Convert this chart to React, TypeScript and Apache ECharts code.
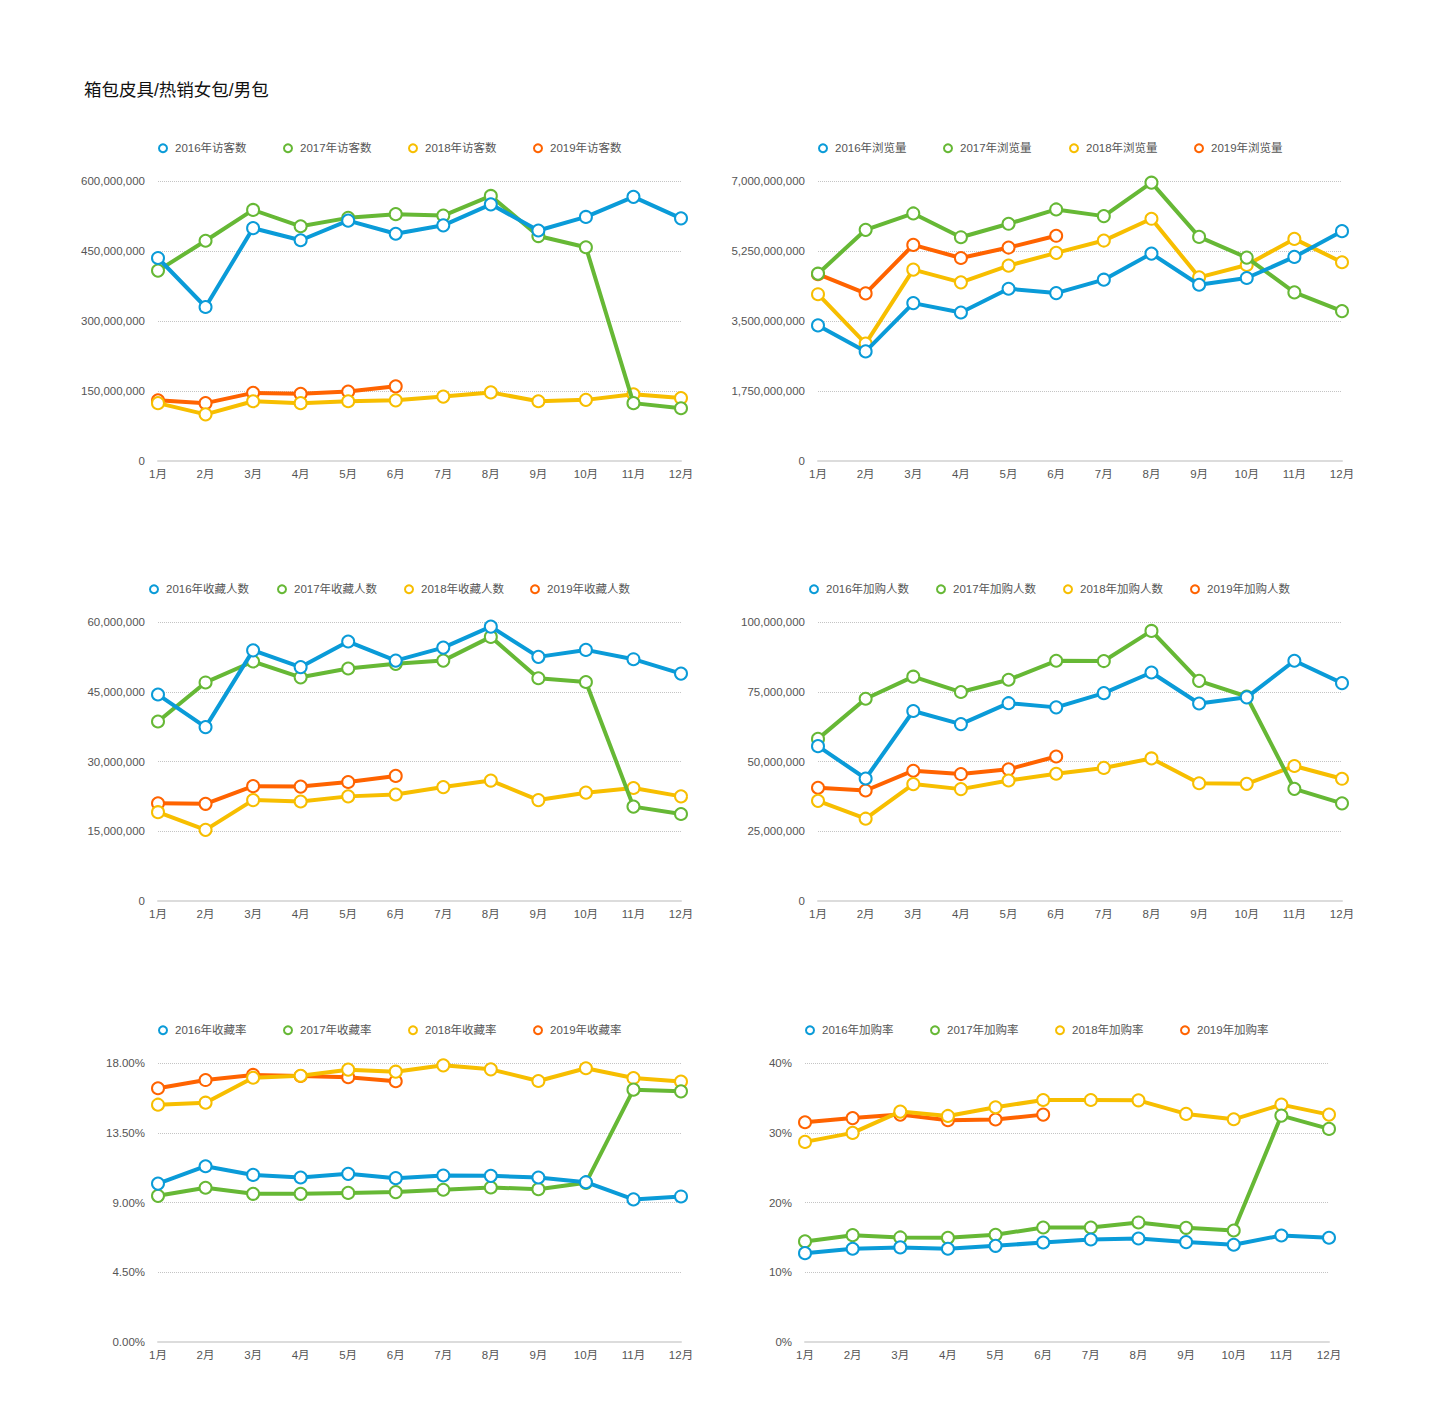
import React, { useEffect, useRef } from "react";
import * as echarts from "echarts";

const TITLE = "箱包皮具/热销女包/男包";
const months = ["1月", "2月", "3月", "4月", "5月", "6月", "7月", "8月", "9月", "10月", "11月", "12月"];
const years = ["2016年", "2017年", "2018年", "2019年"];
const colors = ["#0a9bd8", "#66b835", "#f7be00", "#ff6300"];

// 访客数
const visitors2016 = [435000000, 330000000, 499000000, 473000000, 515000000, 487000000, 505000000, 550000000, 494000000, 523000000, 566000000, 520000000];
const visitors2017 = [408000000, 472000000, 538000000, 503000000, 521000000, 529000000, 526000000, 568000000, 482000000, 458000000, 124000000, 113000000];
const visitors2018 = [124000000, 100000000, 128000000, 124000000, 128000000, 130000000, 138000000, 147000000, 128000000, 131000000, 143000000, 135000000];
const visitors2019 = [130000000, 124000000, 146000000, 144000000, 149000000, 160000000];

// 浏览量
const views2016 = [3390000000, 2740000000, 3947000000, 3713000000, 4307000000, 4198000000, 4533000000, 5185000000, 4407000000, 4575000000, 5102000000, 5746000000];
const views2017 = [4683000000, 5779000000, 6189000000, 5595000000, 5930000000, 6289000000, 6122000000, 6958000000, 5603000000, 5085000000, 4215000000, 3747000000];
const views2018 = [4170000000, 2935000000, 4784000000, 4466000000, 4884000000, 5202000000, 5511000000, 6055000000, 4591000000, 4900000000, 5553000000, 4968000000];
const views2019 = [4670000000, 4190000000, 5403000000, 5076000000, 5336000000, 5630000000];

// 收藏人数
const fav2016 = [44400000, 37400000, 53900000, 50300000, 55800000, 51700000, 54500000, 59000000, 52500000, 54000000, 52000000, 48900000];
const fav2017 = [38600000, 47000000, 51500000, 48100000, 50000000, 51000000, 51700000, 56800000, 47900000, 47100000, 20300000, 18700000];
const fav2018 = [19100000, 15300000, 21700000, 21400000, 22500000, 22900000, 24500000, 25900000, 21700000, 23300000, 24300000, 22500000];
const fav2019 = [21000000, 20900000, 24700000, 24600000, 25600000, 26900000];

// 加购人数
const cart2016 = [55500000, 43900000, 68100000, 63400000, 70900000, 69400000, 74500000, 81900000, 70800000, 73000000, 86100000, 78100000];
const cart2017 = [58100000, 72500000, 80400000, 74900000, 79300000, 86100000, 86000000, 96800000, 78900000, 73300000, 40200000, 35000000];
const cart2018 = [35900000, 29500000, 41900000, 40100000, 43200000, 45600000, 47700000, 51100000, 42200000, 42000000, 48400000, 43800000];
const cart2019 = [40600000, 39600000, 46700000, 45500000, 47200000, 51800000];

// 收藏率 (%)
const favRate2016 = [10.22, 11.34, 10.78, 10.61, 10.85, 10.57, 10.74, 10.72, 10.61, 10.31, 9.2, 9.39];
const favRate2017 = [9.43, 9.95, 9.56, 9.56, 9.62, 9.67, 9.82, 9.97, 9.86, 10.27, 16.28, 16.17];
const favRate2018 = [15.31, 15.44, 17.05, 17.18, 17.57, 17.44, 17.85, 17.59, 16.84, 17.66, 17.03, 16.8];
const favRate2019 = [16.37, 16.9, 17.23, 17.16, 17.08, 16.82];

// 加购率 (%)
const cartRate2016 = [12.74, 13.37, 13.56, 13.37, 13.79, 14.27, 14.7, 14.84, 14.32, 13.94, 15.27, 14.94];
const cartRate2017 = [14.42, 15.32, 14.99, 14.94, 15.37, 16.42, 16.42, 17.14, 16.37, 15.99, 32.46, 30.55];
const cartRate2018 = [28.69, 29.98, 33.03, 32.41, 33.65, 34.7, 34.7, 34.65, 32.7, 31.93, 34.03, 32.6];
const cartRate2019 = [31.5, 32.1, 32.6, 31.8, 31.9, 32.6];

const FONT = '"Liberation Sans", "Noto Sans CJK SC", sans-serif';

const fmtInt = (v: number) => Math.round(v).toLocaleString("en-US");
const fmtPct2 = (v: number) => v.toFixed(2) + "%";
const fmtPct0 = (v: number) => Math.round(v) + "%";

const panels = [
  { metric: "访客数", data: [visitors2016, visitors2017, visitors2018, visitors2019], max: 600000000, interval: 150000000, fmt: fmtInt,
    grid: { left: 158, top: 181, width: 523, height: 280 }, legendX: [158, 283, 408, 533], legendY: 149.5 },
  { metric: "浏览量", data: [views2016, views2017, views2018, views2019], max: 7000000000, interval: 1750000000, fmt: fmtInt,
    grid: { left: 818, top: 181, width: 524, height: 280 }, legendX: [818, 943, 1069, 1194], legendY: 149.5 },
  { metric: "收藏人数", data: [fav2016, fav2017, fav2018, fav2019], max: 60000000, interval: 15000000, fmt: fmtInt,
    grid: { left: 158, top: 622, width: 523, height: 279 }, legendX: [149, 277, 404, 530], legendY: 590.5 },
  { metric: "加购人数", data: [cart2016, cart2017, cart2018, cart2019], max: 100000000, interval: 25000000, fmt: fmtInt,
    grid: { left: 818, top: 622, width: 524, height: 279 }, legendX: [809, 936, 1063, 1190], legendY: 590.5 },
  { metric: "收藏率", data: [favRate2016, favRate2017, favRate2018, favRate2019], max: 18, interval: 4.5, fmt: fmtPct2,
    grid: { left: 158, top: 1063, width: 523, height: 279 }, legendX: [158, 283, 408, 533], legendY: 1031.5 },
  { metric: "加购率", data: [cartRate2016, cartRate2017, cartRate2018, cartRate2019], max: 40, interval: 10, fmt: fmtPct0,
    grid: { left: 805, top: 1063, width: 524, height: 279 }, legendX: [805, 930, 1055, 1180], legendY: 1031.5 },
];

function buildOption() {
  const grid: any[] = [];
  const xAxis: any[] = [];
  const yAxis: any[] = [];
  const series: any[] = [];
  const legend: any[] = [];

  panels.forEach((p, i) => {
    grid.push({ ...p.grid });
    xAxis.push({
      type: "category",
      gridIndex: i,
      data: months,
      boundaryGap: false,
      axisLine: { lineStyle: { color: "#dcdcdc", width: 2 } },
      axisTick: { show: false },
      axisLabel: { color: "#555", fontSize: 11.5, margin: 7, interval: 0, fontFamily: FONT },
    });
    yAxis.push({
      type: "value",
      gridIndex: i,
      min: 0,
      max: p.max,
      interval: p.interval,
      axisLine: { show: false },
      axisTick: { show: false },
      splitLine: { lineStyle: { type: "dotted", color: "#c4c4c4", width: 1 } },
      axisLabel: { color: "#555", fontSize: 11.5, margin: 13, formatter: p.fmt, fontFamily: FONT },
    });
    years.forEach((y, k) => {
      const name = y + p.metric;
      series.push({
        type: "line",
        name,
        xAxisIndex: i,
        yAxisIndex: i,
        data: p.data[k],
        symbol: "emptyCircle",
        symbolSize: 12,
        showAllSymbol: true,
        lineStyle: { width: 4, color: colors[k] },
        itemStyle: { color: colors[k], borderWidth: 4 },
        z: 10 - k,
        emphasis: { disabled: true },
      });
      legend.push({
        left: p.legendX[k],
        top: p.legendY - 7,
        padding: 0,
        data: [name],
        icon: "emptyCircle",
        itemWidth: 8,
        itemHeight: 8,
        itemGap: 0,
        selectedMode: false,
        itemStyle: { borderWidth: 2 },
        textStyle: { color: "#555", fontSize: 11.5, fontFamily: FONT, padding: [0, 0, 0, 3] },
      });
    });
  });

  return {
    animation: false,
    backgroundColor: "#ffffff",
    title: {
      text: TITLE,
      left: 84,
      top: 81,
      padding: 0,
      textStyle: { fontSize: 17.5, fontWeight: "normal", color: "#111", fontFamily: FONT },
    },
    tooltip: { show: false },
    grid,
    xAxis,
    yAxis,
    legend,
    series,
  };
}

export default function App() {
  const ref = useRef<HTMLDivElement>(null);
  useEffect(() => {
    if (!ref.current) return;
    const chart = echarts.init(ref.current, undefined, { renderer: "svg" });
    chart.setOption(buildOption() as any);
    return () => chart.dispose();
  }, []);
  return (
    <div
      ref={ref}
      style={{ position: "absolute", left: 0, top: 0, width: 1440, height: 1415, background: "#fff" }}
    />
  );
}
